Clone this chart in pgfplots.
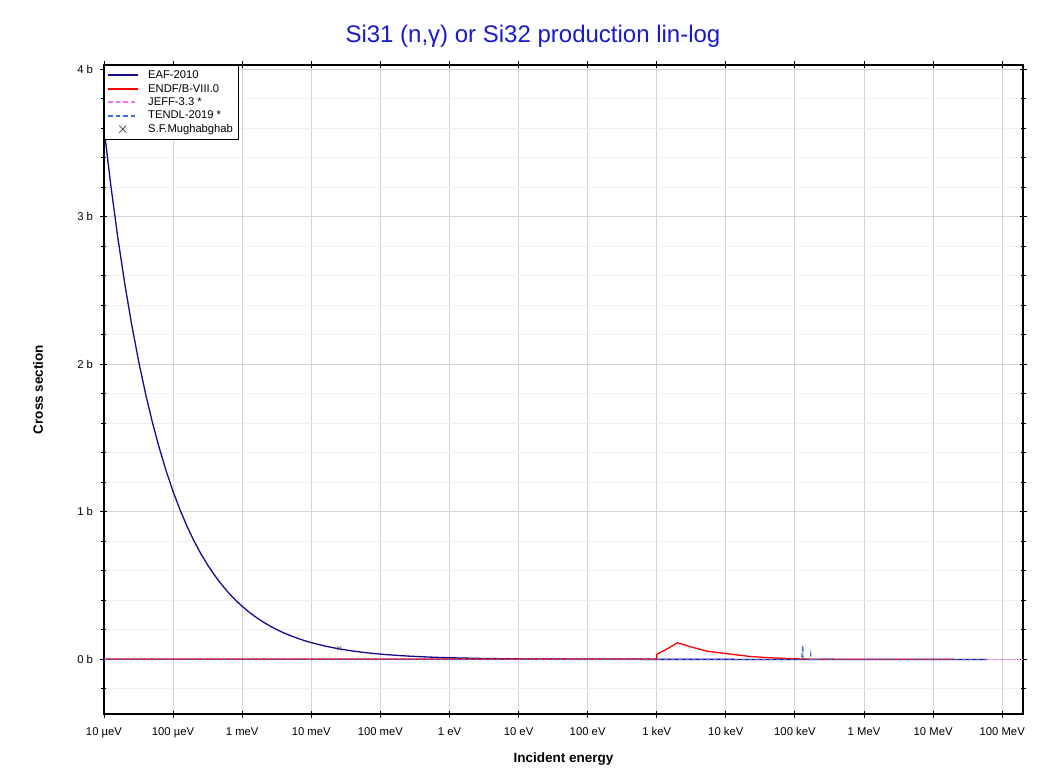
\documentclass[border=0pt]{standalone}
\usepackage{fontspec}
\setmainfont{Liberation Sans}
\usepackage{pgfplots}
\pgfplotsset{compat=1.18}

\definecolor{eafblue}{RGB}{20,10,140}
\definecolor{endfred}{RGB}{255,0,0}
\definecolor{jeffpink}{RGB}{255,110,255}
\definecolor{tendlblue}{RGB}{70,110,225}
\definecolor{titleblue}{RGB}{25,25,205}
\definecolor{majgrid}{RGB}{212,212,212}
\definecolor{mingrid}{RGB}{240,240,240}

\begin{document}
\begin{tikzpicture}
\begin{axis}[
  scale only axis, width=919pt, height=649pt,
  xmode=log, xmin=1e-5, xmax=2e8,
  ymin=-0.37, ymax=4.03,
  xtick={1e-5,1e-4,1e-3,1e-2,1e-1,1,10,100,1e3,1e4,1e5,1e6,1e7,1e8},
  xticklabels={10 µeV,100 µeV,1 meV,10 meV,100 meV,1 eV,10 eV,100 eV,1 keV,10 keV,100 keV,1 MeV,10 MeV,100 MeV},
  xminorticks=false,
  ytick={0,1,2,3,4}, yticklabels={0 b,1 b,2 b,3 b,4 b},
  minor ytick={-0.2,0.2,0.4,0.6,0.8,1.2,1.4,1.6,1.8,2.2,2.4,2.6,2.8,3.2,3.4,3.6,3.8},
  xmajorgrids=true, ymajorgrids=true, yminorgrids=true, xminorgrids=false,
  major grid style={majgrid, line width=1pt},
  minor grid style={mingrid, line width=1pt},
  axis line style={line width=1.3pt},
  tick style={black, line width=0.9pt},
  tick align=center, major tick length=7pt, minor tick length=5pt,
  /pgf/number format/assume math mode=true,
  tick label style={font=\fontsize{11.3}{13}\selectfont},
  xticklabel style={yshift=-6pt, text height=8.5pt, text depth=2.5pt},
  yticklabel style={xshift=-4pt},
  title={Si31 (n,γ) or Si32 production lin-log},
  title style={at={(axis description cs:0.4668,1.0252)}, anchor=base,
    font=\fontsize{24}{28}\selectfont, text=titleblue},
  xlabel={Incident energy},
  xlabel style={at={(axis description cs:0.5,-0.074)}, anchor=base,
    font=\bfseries\fontsize{13.5}{16}\selectfont},
  ylabel={Cross section},
  ylabel style={at={(axis description cs:-0.0718,0.5)}, anchor=center,
    font=\bfseries\fontsize{13.5}{16}\selectfont},
  legend style={at={(axis description cs:0,1)}, anchor=north west,
    draw=black, fill=white,
    font=\fontsize{11.2}{13}\selectfont,
    inner xsep=3pt, inner ysep=3.5pt, row sep=0pt,
    /tikz/every odd column/.append style={column sep=7pt}},
  legend cell align=left,
]
\coordinate (sw) at (rel axis cs:0,0);

\addlegendimage{legend image code/.code={\draw[eafblue, line width=2pt] (0pt,0pt) -- (30pt,0pt);}}
\addlegendentry{EAF-2010}
\addlegendimage{legend image code/.code={\draw[endfred, line width=2pt] (0pt,0pt) -- (30pt,0pt);}}
\addlegendentry{ENDF/B-VIII.0}
\addlegendimage{legend image code/.code={\draw[jeffpink, line width=2pt, dash pattern=on 4.5pt off 3pt] (0pt,0pt) -- (30pt,0pt);}}
\addlegendentry{JEFF-3.3 *}
\addlegendimage{legend image code/.code={\draw[tendlblue, line width=2pt, dash pattern=on 4.5pt off 3pt] (0pt,0pt) -- (30pt,0pt);}}
\addlegendentry{TENDL-2019 *}
\addlegendimage{legend image code/.code={\draw[black!75, line width=0.7pt] (11pt,-3.5pt) -- (18pt,3.5pt) (11pt,3.5pt) -- (18pt,-3.5pt);}}
\addlegendentry{S.F.Mughabghab}

% JEFF-3.3
\addplot[forget plot, jeffpink, line width=1.3pt, dash pattern=on 4pt off 3pt]
  coordinates {(1e-5,0)(1e3,0)(1e6,0)(2e8,0)};
% EAF-2010
\addplot[forget plot, eafblue, line width=1.3pt] coordinates {
  (1e-5,3.600)(1.259e-5,3.209)(1.585e-5,2.860)(1.995e-5,2.549)(2.512e-5,2.272)
  (3.162e-5,2.025)(3.981e-5,1.805)(5.012e-5,1.608)(6.310e-5,1.434)(7.943e-5,1.278)
  (1e-4,1.138)(1.259e-4,1.015)(1.585e-4,0.904)(1.995e-4,0.806)(2.512e-4,0.718)
  (3.162e-4,0.640)(3.981e-4,0.571)(5.012e-4,0.509)(6.310e-4,0.453)(7.943e-4,0.404)
  (1e-3,0.360)(1.259e-3,0.3209)(1.585e-3,0.2860)(1.995e-3,0.2549)(2.512e-3,0.2272)
  (3.162e-3,0.2025)(3.981e-3,0.1805)(5.012e-3,0.1608)(6.310e-3,0.1434)(7.943e-3,0.1278)
  (1e-2,0.1138)(1.585e-2,0.0904)(2.512e-2,0.0718)(3.981e-2,0.0571)(6.310e-2,0.0453)
  (0.1,0.0360)(0.1585,0.0286)(0.2512,0.0227)(0.3981,0.0181)(0.631,0.0143)
  (1,0.0114)(3.162,0.0064)(10,0.0036)(100,0.00114)(1000,0.00036)
  (1e4,0.0002)(1e5,0.0001)(6e7,0.0001)};
% ENDF/B-VIII.0
\addplot[forget plot, endfred, line width=1.3pt] coordinates {
  (1e-5,0.002)(1e3,0.002)(1e3,0.034)(1.46e3,0.075)(2e3,0.113)(3.24e3,0.083)
  (5.35e3,0.056)(1.04e4,0.039)(2.24e4,0.02)(4.8e4,0.01)(1.07e5,0.004)
  (2e5,0.001)(2e7,0.001)};
% TENDL-2019
\addplot[forget plot, tendlblue, line width=1.3pt, dash pattern=on 4pt off 3pt] coordinates {
  (1e-5,0)(1.25e5,0)(1.3e5,0.093)(1.31e5,0)(1.65e5,0)(1.69e5,0.034)(1.72e5,0)
  (1.98e5,0)(2e5,0.01)(2.02e5,0)(3.2e5,0.005)(3.25e5,0)(3.55e5,0.005)(3.6e5,0)
  (6e7,0)};
% S.F.Mughabghab
\addplot[forget plot, only marks, mark=x, mark size=3pt, black!70]
  coordinates {(0.0253,0.075)};
\end{axis}
\pgfresetboundingbox
\path (sw) ++(-104pt,-60pt) rectangle ++(1049pt,774pt);
\end{tikzpicture}
\end{document}
